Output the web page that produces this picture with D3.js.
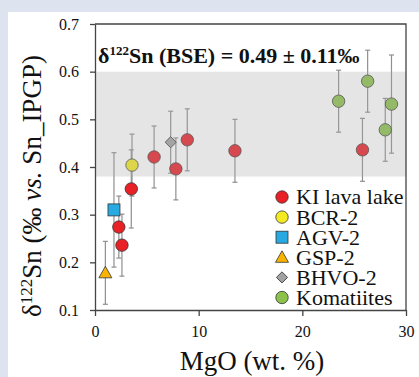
<!DOCTYPE html>
<html>
<head>
<meta charset="utf-8">
<script src="https://cdn.jsdelivr.net/npm/d3@7"></script>
<style>
  html, body { margin: 0; padding: 0; background: #dde4ef; }
  svg { display: block; }
</style>
</head>
<body>
<div id="viz"></div>
<script>
// Values
var kiMgO = [2.3, 2.6, 3.5, 5.7, 7.8, 8.9, 13.5, 25.8];
var kiSn = [0.274, 0.236, 0.354, 0.421, 0.396, 0.457, 0.434, 0.436];
var kiErr = [0.065, 0.065, 0.082, 0.065, 0.065, 0.065, 0.066, 0.066];

var bcrMgO = [3.57], bcrSn = [0.404], bcrErr = [0.065];
var agvMgO = [1.83], agvSn = [0.31], agvErr = [0.12];
var gspMgO = [1.0], gspSn = [0.178], gspErr = [0.066];
var bhvoMgO = [7.3], bhvoSn = [0.452], bhvoErr = [0.065];

var komMgO = [23.5, 26.3, 28.0, 28.6];
var komSn = [0.538, 0.580, 0.478, 0.532];
var komErr = [0.065, 0.065, 0.066, 0.103];

var bseMean = 0.49, bseErr = 0.11;

var xTicks = [0, 10, 20, 30];
var yTicks = [0.1, 0.2, 0.3, 0.4, 0.5, 0.6, 0.7];

var width = 419, height = 377;
var serif = "'Times New Roman'";

// series: label, values, marker type, fill
var series = [
  {name: 'KI lava lake', x: kiMgO, y: kiSn, e: kiErr, shape: 'circle', fill: '#ea2027'},
  {name: 'BCR-2', x: bcrMgO, y: bcrSn, e: bcrErr, shape: 'circle', fill: '#f4ea22'},
  {name: 'AGV-2', x: agvMgO, y: agvSn, e: agvErr, shape: 'square', fill: '#27a9e1'},
  {name: 'GSP-2', x: gspMgO, y: gspSn, e: gspErr, shape: 'triangle', fill: '#f8b400'},
  {name: 'BHVO-2', x: bhvoMgO, y: bhvoSn, e: bhvoErr, shape: 'diamond', fill: '#a2a2a2'},
  {name: 'Komatiites', x: komMgO, y: komSn, e: komErr, shape: 'circle', fill: '#8cc24c'}
];

var x = d3.scaleLinear().domain([0, 30]).range([95, 406]);
var y = d3.scaleLinear().domain([0.1, 0.7]).range([310, 24]);

var svg = d3.select('#viz').append('svg')
  .attr('width', width)
  .attr('height', height);

// white panel
svg.append('rect')
  .attr('x', 8).attr('y', 12)
  .attr('width', width - 8).attr('height', height - 12)
  .attr('fill', '#fff');

function marker(sel, shape, fill) {
  if (shape === 'circle') {
    sel.append('circle').attr('r', 6.2);
  } else if (shape === 'square') {
    sel.append('rect').attr('x', -6).attr('y', -6).attr('width', 12).attr('height', 12);
  } else if (shape === 'triangle') {
    sel.append('path').attr('d', 'M0,-6.5L6.5,5L-6.5,5Z');
  } else {
    sel.append('path').attr('d', d3.symbol().type(d3.symbolSquare).size(62)()).attr('transform', 'rotate(45)');
  }
  sel.selectAll('*')
    .attr('fill', fill)
    .attr('stroke', '#333')
    .attr('stroke-width', 0.8);
}

var plot = svg.append('g');

series.forEach(function (s) {
  var pts = s.x.map(function (v, i) { return {x: v, y: s.y[i], e: s.e[i]}; });

  var eb = plot.append('g')
    .attr('stroke', '#8f8f8f')
    .attr('stroke-width', 1.2);

  eb.selectAll('.bar').data(pts).enter().append('line')
    .attr('x1', function (d) { return x(d.x); })
    .attr('x2', function (d) { return x(d.x); })
    .attr('y1', function (d) { return y(d.y - d.e); })
    .attr('y2', function (d) { return y(d.y + d.e); });

  [-1, 1].forEach(function (sign) {
    eb.selectAll('.cap' + sign).data(pts).enter().append('line')
      .attr('x1', function (d) { return x(d.x) - 2.5; })
      .attr('x2', function (d) { return x(d.x) + 2.5; })
      .attr('y1', function (d) { return y(d.y + sign * d.e); })
      .attr('y2', function (d) { return y(d.y + sign * d.e); });
  });
});

series.forEach(function (s) {
  s.x.forEach(function (v, i) {
    var g = plot.append('g')
      .attr('transform', 'translate(' + x(v) + ',' + y(s.y[i]) + ')');
    marker(g, s.shape, s.fill);
  });
});

// BSE band, drawn over the points as a translucent layer
svg.append('rect')
  .attr('x', x(0))
  .attr('width', x(30) - x(0))
  .attr('y', y(bseMean + bseErr))
  .attr('height', y(bseMean - bseErr) - y(bseMean + bseErr))
  .attr('fill', '#a9a9a9')
  .attr('opacity', 0.3);

// axes
var xAxis = svg.append('g')
  .attr('transform', 'translate(0,310)')
  .call(d3.axisBottom(x).tickValues(xTicks).tickSize(6).tickSizeOuter(0).tickPadding(10));

var yAxis = svg.append('g')
  .attr('transform', 'translate(95,0)')
  .call(d3.axisLeft(y).tickValues(yTicks).tickFormat(d3.format('.1f')).tickSize(5).tickSizeOuter(0).tickPadding(11));

[xAxis, yAxis].forEach(function (a) {
  a.attr('font-family', serif);
  a.selectAll('path, line').attr('stroke', '#444').attr('stroke-width', 1.3);
  a.selectAll('text')
    .attr('fill', '#111')
    .style('font-family', serif)
    .style('font-size', '16px');
});

// top and right frame
svg.append('path')
  .attr('d', 'M' + x(0) + ',' + y(0.7) + 'H' + x(30) + 'V' + y(0.1))
  .attr('fill', 'none')
  .attr('stroke', '#444')
  .attr('stroke-width', 1.3);

// BSE annotation
var note = svg.append('text')
  .attr('x', 98).attr('y', 63)
  .attr('fill', '#111')
  .style('font-family', serif)
  .style('font-weight', 'bold')
  .style('font-size', '22px');
note.append('tspan').text('δ');
note.append('tspan').attr('dy', -8).style('font-size', '13px').text('122');
note.append('tspan').attr('dy', 8).text('Sn (BSE) = ' + bseMean.toFixed(2) + ' ± ' + bseErr.toFixed(2) + '‰');

// axis titles
svg.append('text')
  .attr('x', 252).attr('y', 370)
  .attr('text-anchor', 'middle')
  .attr('fill', '#111')
  .style('font-family', serif)
  .style('font-size', '27px')
  .text('MgO (wt. %)');

var yl = svg.append('text')
  .attr('transform', 'translate(41,186) rotate(-90)')
  .attr('text-anchor', 'middle')
  .attr('fill', '#111')
  .style('font-family', serif)
  .style('font-size', '27px');
yl.append('tspan').text('δ');
yl.append('tspan').attr('dy', -9).style('font-size', '17px').text('122');
yl.append('tspan').attr('dy', 9).text('Sn (‰ ');
yl.append('tspan').style('font-style', 'italic').text('vs.');
yl.append('tspan').text(' Sn_IPGP)');

// legend
var legend = svg.append('g');
series.forEach(function (s, i) {
  var row = legend.append('g')
    .attr('transform', 'translate(282,' + (197 + i * 20.1) + ')');
  marker(row, s.shape, s.fill);
  row.append('text')
    .attr('x', 14).attr('dy', '0.34em')
    .attr('fill', '#111')
    .style('font-family', serif)
    .style('font-size', '22px')
    .text(s.name);
});
</script>
</body>
</html>
